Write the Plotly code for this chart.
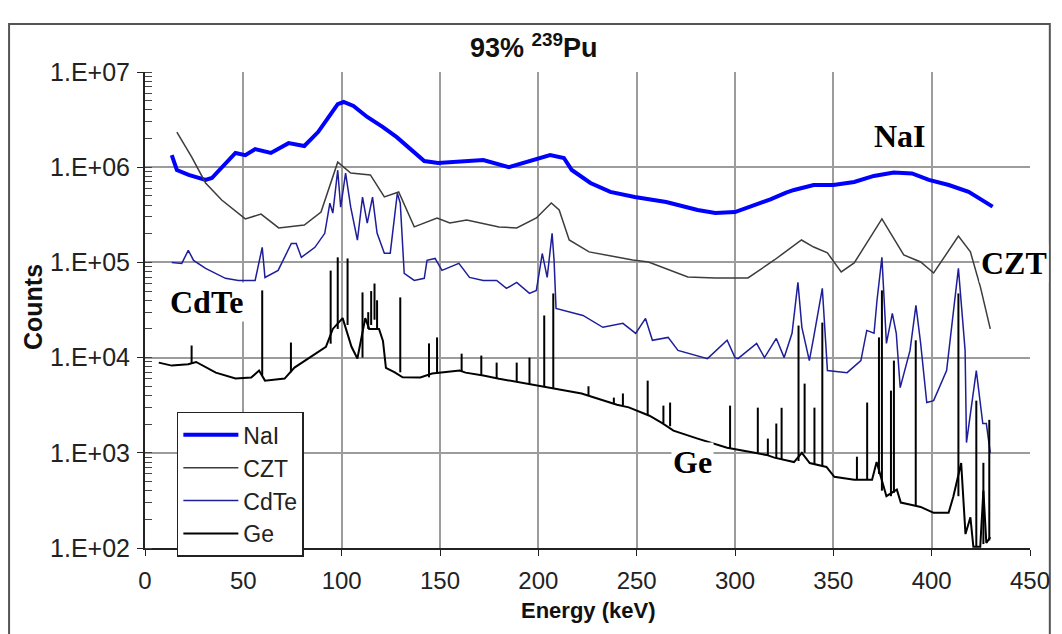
import plotly.graph_objects as go

# ---------------- data ----------------
nai_e = [13.6, 16.2, 22.2, 30.8, 34, 40.4, 46, 51, 56, 64, 73, 81, 88, 93, 98, 101, 106, 113,
         121, 128, 136, 142, 149, 160, 172, 185, 198, 206, 213, 217, 226.5, 236.6, 249, 265,
         281, 290, 300, 310, 318, 326, 330, 340, 350, 360.6, 370.6, 380.7, 390, 398.6, 408.7,
         418.8, 431]
nai_c = [1.34e6, 9.35e5, 8.3e5, 7.35e5, 7.7e5, 1.05e6, 1.41e6, 1.34e6, 1.55e6, 1.41e6, 1.79e6,
         1.67e6, 2.34e6, 3.28e6, 4.6e6, 4.84e6, 4.4e6, 3.37e6, 2.64e6, 2.07e6, 1.48e6, 1.16e6,
         1.11e6, 1.15e6, 1.19e6, 1.0e6, 1.19e6, 1.34e6, 1.25e6, 9.35e5, 6.83e5, 5.5e5, 4.87e5,
         4.31e5, 3.55e5, 3.3e5, 3.38e5, 4.0e5, 4.6e5, 5.4e5, 5.77e5, 6.5e5, 6.5e5, 7.0e5,
         8.1e5, 8.8e5, 8.6e5, 7.35e5, 6.5e5, 5.5e5, 3.85e5]

czt_e = [16.2, 23.7, 30.8, 39, 51, 59, 68, 81, 89.5, 98, 104.6, 114.6, 121.7, 129, 136.9, 148.5,
         155, 163.6, 180, 189, 199, 206.6, 210.6, 215.7, 225.8, 248, 256, 276, 290, 306.6, 320,
         333.8, 340, 347, 354, 360.6, 374.7, 385.8, 394.4, 401, 413.6, 419.7, 424.8, 429.8]
czt_c = [2.34e6, 1.28e6, 6.83e5, 4.52e5, 2.86e5, 3.22e5, 2.3e5, 2.47e5, 3.38e5, 1.13e6, 8.7e5,
         8.3e5, 4.87e5, 5.5e5, 2.36e5, 2.93e5, 2.59e5, 2.79e5, 2.36e5, 2.3e5, 2.93e5, 4.21e5,
         3.55e5, 1.72e5, 1.29e5, 1.06e5, 1.01e5, 7.03e4, 6.86e4, 6.86e4, 1.06e5, 1.72e5, 1.45e5,
         1.26e5, 7.93e4, 9.86e4, 2.86e5, 1.2e5, 1.01e5, 7.74e4, 1.89e5, 1.29e5, 5.5e4, 2.0e4]

cdte_e = [13.6, 18.7, 22, 24.7, 30.8, 40.9, 47.5, 56, 59.6, 61, 67.7, 74.4, 76.9, 79.5, 86.4,
          91.4, 94, 95.5, 98, 99.5, 102, 104.6, 108, 110.6, 113, 115.7, 118, 121.7, 124.7,
          128.3, 129.8, 131.8, 136.9, 142, 143.4, 147.5, 151, 159.6, 165, 172, 178.8, 183.8,
          189, 195.5, 199, 202, 204.5, 207, 208, 209, 222.7, 232.8, 243, 249.5, 254.5, 258,
          266, 271, 286, 296, 300, 301.5, 311, 315, 321, 325, 329, 332, 334, 337.8, 340, 344.4,
          347, 357, 364, 367, 370.7, 372.2, 374.7, 377, 380, 382, 384, 389, 392, 394.4, 397.5,
          401, 407.6, 413.6, 417, 417.7, 422.7, 426, 427.8, 429.8]
cdte_c = [1.0e5, 9.76e4, 1.34e5, 1.05e5, 8.65e4, 6.8e4, 6.47e4, 6.47e4, 1.44e5, 6.95e4, 8.24e4,
          1.58e5, 1.58e5, 1.13e5, 1.44e5, 2.02e5, 4.19e5, 3.29e5, 9.3e5, 3.8e5, 8.65e5, 3.8e5,
          1.71e5, 4.84e5, 2.58e5, 4.84e5, 2.03e5, 1.25e5, 1.25e5, 5.33e5, 4.19e5, 7.66e4,
          6.47e4, 6.8e4, 1.05e5, 1.1e5, 8.24e4, 9.76e4, 6.95e4, 6.47e4, 6.47e4, 5.33e4, 6.17e4,
          4.72e4, 5.08e4, 1.24e5, 6.95e4, 2.02e5, 1.05e5, 3.29e4, 2.77e4, 2.08e4, 2.29e4, 1.8e4,
          2.58e4, 1.52e4, 1.63e4, 1.19e4, 9.76e3, 1.52e4, 1.0e4, 9.76e3, 1.41e4, 1.0e4, 1.59e4,
          1.0e4, 1.8e4, 6.17e4, 2.08e4, 9.3e3, 1.63e4, 5.33e4, 7.3e3, 6.95e3, 9.3e3, 1.93e4,
          1.8e4, 3.98e4, 1.13e5, 1.41e4, 2.91e4, 1.8e4, 4.84e3, 1.19e4, 3.53e4, 1.41e4, 3.37e3,
          3.53e3, 7.3e3, 8.65e4, 1.19e4, 1.28e3, 7.3e3, 2.03e3, 2.03e3, 1.0e3]

# Ge continuum
ge_e = [7, 13.6, 22, 26, 36, 46, 54, 58, 61, 71, 76, 84, 92, 95.5, 100.5, 105, 108, 112, 114,
        119, 121, 122.5, 127, 131, 140, 146, 150, 160, 163, 172, 180, 190.5, 197.5, 205, 209,
        222, 236, 240, 246, 254, 256.5, 263, 268.7, 281, 296, 310, 316, 320, 325, 330, 334,
        338, 346.5, 350.5, 360.6, 364, 369.7, 372, 377, 382.3, 384.3, 389.4, 394.4, 401, 408.6,
        411, 415, 417.2, 419.7, 421.2, 424.7, 426.3, 427.8, 429.8]
ge_c = [8.86e3, 8.24e3, 8.5e3, 9.0e3, 6.95e3, 6.02e3, 6.17e3, 7.3e3, 5.73e3, 6.02e3, 7.85e3,
        1.0e4, 1.3e4, 2.0e4, 2.6e4, 1.3e4, 9.8e3, 2.6e4, 2.0e4, 2.0e4, 1.5e4, 7.8e3, 7.0e3,
        6.2e3, 6.17e3, 6.8e3, 6.95e3, 7.3e3, 6.95e3, 6.5e3, 6.0e3, 5.5e3, 5.1e3, 4.8e3, 4.7e3,
        4.2e3, 3.4e3, 3.2e3, 3.0e3, 2.6e3, 2.45e3, 2.05e3, 1.71e3, 1.41e3, 1.13e3, 1.0e3,
        9.5e2, 8.9e2, 8.4e2, 8.0e2, 1.0e3, 7.8e2, 7.1e2, 5.6e2, 5.2e2, 5.2e2, 5.2e2, 8.0e2,
        3.5e2, 4.1e2, 3.0e2, 2.84e2, 2.7e2, 2.34e2, 2.34e2, 3.45e2, 7.8e2, 1.4e2, 2.1e2,
        1.03e2, 1.03e2, 4.0e2, 1.13e2, 1.3e2]
# Ge peaks: energy, foot and top
gep_e = [23.7, 59.6, 74.2, 94.4, 98, 103, 110.6, 113.5, 115, 116.7, 118, 129.8, 144.4, 148.5,
         161, 171, 178.8, 189, 195.5, 203, 207.6, 225.5, 238.4, 243, 255.6, 263.6, 267, 297.5,
         311.6, 316.7, 321, 323.7, 332.3, 335.4, 340.4, 344.4, 362, 367.2, 373.2, 374.7, 379.3,
         380.8, 391.9, 413.6, 422.7, 426.3, 429.3]
gep_lo = [8.6e3, 6.5e3, 7.0e3, 1.4e4, 2.0e4, 2.2e4, 1.0e4, 2.0e4, 2.2e4, 2.5e4, 2.0e4, 7.0e3,
          6.2e3, 6.8e3, 7.2e3, 6.6e3, 6.1e3, 5.6e3, 5.2e3, 4.9e3, 4.8e3, 4.0e3, 3.3e3, 3.15e3,
          2.5e3, 2.05e3, 1.9e3, 1.1e3, 1.0e3, 9.4e2, 8.8e2, 8.6e2, 8.2e2, 1.0e3, 7.6e2, 7.3e2,
          5.2e2, 5.2e2, 6.0e2, 4.0e2, 3.5e2, 3.8e2, 2.8e2, 3.5e2, 1.03e2, 1.1e2, 1.2e2]
gep_hi = [1.34e4, 5.08e4, 1.44e4, 8.2e4, 1.13e5, 1.1e5, 4.84e4, 3.0e4, 5.0e4, 6.0e4, 4.0e4,
          4.29e4, 1.41e4, 1.63e4, 1.1e4, 1.05e4, 8.86e3, 8.86e3, 1.0e4, 2.77e4, 4.72e4, 5.0e3,
          3.8e3, 4.2e3, 5.73e3, 3.13e3, 3.37e3, 3.13e3, 2.98e3, 1.41e3, 2.03e3, 2.97e3, 2.17e4,
          5.33e3, 2.98e3, 2.33e4, 9.1e2, 3.37e3, 1.63e4, 5.08e4, 4.5e3, 9.3e3, 1.52e4, 4.72e4,
          3.53e3, 7.85e2, 2.22e3]

y_tick_vals = [1e2, 1e3, 1e4, 1e5, 1e6, 1e7]
y_tick_text = ["1.E+02", "1.E+03", "1.E+04", "1.E+05", "1.E+06", "1.E+07"]
x_ticks = [0, 50, 100, 150, 200, 250, 300, 350, 400, 450]

series = [
    ("NaI", nai_e, nai_c, "#0000FF", 4),
    ("CZT", czt_e, czt_c, "#3C3C3C", 1.5),
    ("CdTe", cdte_e, cdte_c, "#1E1E9A", 1.5),
    ("Ge", ge_e, ge_c, "#000000", 2),
]

fig = go.Figure()
for name, xs, ys, col, w in series:
    fig.add_trace(go.Scatter(x=xs, y=ys, mode="lines", name=name, legendgroup=name,
                             line=dict(color=col, width=w)))

# Ge peaks as thin vertical strokes
pk_x, pk_y = [], []
for e, lo, hi in zip(gep_e, gep_lo, gep_hi):
    pk_x += [e, e, None]
    pk_y += [lo, hi, None]
fig.add_trace(go.Scatter(x=pk_x, y=pk_y, mode="lines", name="Ge", legendgroup="Ge",
                         showlegend=False, line=dict(color="#000000", width=2)))

FONT = "Liberation Sans, Arial, sans-serif"
SERIF = "Liberation Serif, Times New Roman, serif"

fig.update_layout(
    width=1054, height=626,
    margin=dict(l=137, r=25, t=64, b=86),
    paper_bgcolor="white", plot_bgcolor="white",
    font=dict(family=FONT, size=24, color="#111"),
    showlegend=True,
    legend=dict(x=0.036, y=0.286, xanchor="left", yanchor="top",
                bgcolor="white", bordercolor="#222", borderwidth=1.5,
                font=dict(family=FONT, size=23, color="#222"),
                tracegroupgap=0, itemwidth=55),
    xaxis=dict(range=[0, 450], tickvals=x_ticks, showgrid=True,
               gridcolor="#9c9c9c", gridwidth=1.5, showline=True,
               linecolor="#222", linewidth=2, ticks="outside", ticklen=6,
               tickcolor="#222", ticklabelstandoff=4, zeroline=False,
               tickfont=dict(size=24, color="#222")),
    yaxis=dict(type="log", range=[2, 7], tickvals=y_tick_vals, ticktext=y_tick_text,
               showgrid=True, gridcolor="#9c9c9c", gridwidth=1.5, showline=True,
               linecolor="#222", linewidth=2, ticks="outside", ticklen=6,
               tickcolor="#222", ticklabelstandoff=2, zeroline=False,
               tickfont=dict(size=25, color="#222"),
               minor=dict(ticks="inside", ticklen=7, dtick="D1", tickcolor="#444",
                          showgrid=False)),
    shapes=[dict(type="rect", xref="paper", yref="paper", x0=-0.1536, x1=1.0224,
                 y0=-0.3, y1=1.1008, line=dict(color="#555", width=2), layer="below")],
    annotations=[
        dict(text="<b>93% <sup>239</sup>Pu</b>", xref="paper", yref="paper", x=0.4395, y=1.0546,
             showarrow=False, font=dict(size=27, color="#111"), xanchor="center", yanchor="middle"),
        dict(text="<b>Counts</b>", xref="paper", yref="paper", x=-0.1267, y=0.506,
             textangle=-90, showarrow=False, font=dict(size=25, color="#111"),
             xanchor="center", yanchor="middle"),
        dict(text="<b>Energy (keV)</b>", xref="paper", yref="paper", x=0.501, y=-0.132,
             showarrow=False, font=dict(size=22, color="#111"), xanchor="center", yanchor="middle"),
        dict(text="<b>NaI</b>", xref="paper", yref="paper", x=0.853, y=0.8655, showarrow=False,
             font=dict(family=SERIF, size=32, color="#000"), bgcolor="white",
             xanchor="center", yanchor="middle"),
        dict(text="<b>CZT</b>", xref="paper", yref="paper", x=0.982, y=0.599, showarrow=False,
             font=dict(family=SERIF, size=32, color="#000"), bgcolor="white",
             xanchor="center", yanchor="middle"),
        dict(text="<b>CdTe</b>", xref="paper", yref="paper", x=0.0695, y=0.517, showarrow=False,
             font=dict(family=SERIF, size=32, color="#000"), bgcolor="white",
             xanchor="center", yanchor="middle"),
        dict(text="<b>Ge</b>", xref="paper", yref="paper", x=0.619, y=0.181, showarrow=False,
             font=dict(family=SERIF, size=32, color="#000"), bgcolor="white",
             xanchor="center", yanchor="middle"),
    ],
)

fig.write_html("out.html")
